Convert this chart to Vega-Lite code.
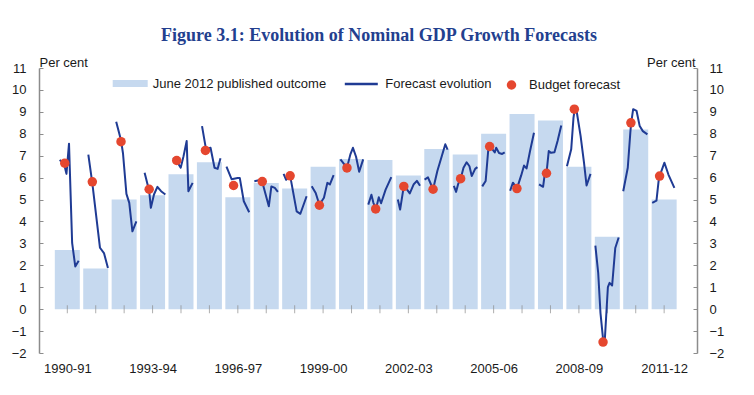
{
  "$schema": "https://vega.github.io/schema/vega-lite/v6.json",
  "width": 658,
  "height": 285,
  "autosize": {"type": "none"},
  "padding": {"left": 39, "top": 68, "right": 57, "bottom": 42},
  "background": "white",
  "title": {
    "text": "Figure 3.1: Evolution of Nominal GDP Growth Forecasts",
    "font": "Liberation Serif",
    "fontSize": 18,
    "fontWeight": "bold",
    "color": "#233f8f",
    "anchor": "middle",
    "frame": "group",
    "dx": 11,
    "offset": -3,
    "baseline": "alphabetic"
  },
  "config": {
    "view": {"stroke": null},
    "font": "Liberation Sans",
    "axisX": {
      "domain": false,
      "ticks": false,
      "grid": false,
      "labelFontSize": 13,
      "labelColor": "#1a1a1a",
      "labelPadding": 9,
      "title": null
    },
    "legend": {
      "orient": "none",
      "title": null,
      "padding": 0,
      "labelFontSize": 13,
      "labelColor": "#1a1a1a",
      "labelFont": "Liberation Sans",
      "labelLimit": 400
    }
  },
  "datasets": {
    "bars": [
      {"i": 0, "v": 2.7}, {"i": 1, "v": 1.85}, {"i": 2, "v": 5.0}, {"i": 3, "v": 5.2},
      {"i": 4, "v": 6.15}, {"i": 5, "v": 6.7}, {"i": 6, "v": 5.1}, {"i": 7, "v": 5.75},
      {"i": 8, "v": 5.5}, {"i": 9, "v": 6.5}, {"i": 10, "v": 6.85}, {"i": 11, "v": 6.8},
      {"i": 12, "v": 6.1}, {"i": 13, "v": 7.3}, {"i": 14, "v": 7.05}, {"i": 15, "v": 8.0},
      {"i": 16, "v": 8.9}, {"i": 17, "v": 8.6}, {"i": 18, "v": 6.5}, {"i": 19, "v": 3.3},
      {"i": 20, "v": 8.2}, {"i": 21, "v": 5.0}
    ],
    "lines": [
      {"yr": 0, "t": -0.27, "v": 6.8}, {"yr": 0, "t": -0.12, "v": 6.65}, {"yr": 0, "t": -0.03, "v": 6.17}, {"yr": 0, "t": 0.06, "v": 7.55}, {"yr": 0, "t": 0.17, "v": 3.02}, {"yr": 0, "t": 0.28, "v": 1.95}, {"yr": 0, "t": 0.40, "v": 2.21},
      {"yr": 1, "t": 0.74, "v": 7.05}, {"yr": 1, "t": 0.88, "v": 5.75}, {"yr": 1, "t": 1.15, "v": 2.8}, {"yr": 1, "t": 1.29, "v": 2.56}, {"yr": 1, "t": 1.43, "v": 1.88},
      {"yr": 2, "t": 1.72, "v": 8.55}, {"yr": 2, "t": 1.89, "v": 7.7}, {"yr": 2, "t": 1.96, "v": 7.1}, {"yr": 2, "t": 2.08, "v": 5.26}, {"yr": 2, "t": 2.18, "v": 4.85}, {"yr": 2, "t": 2.29, "v": 3.55}, {"yr": 2, "t": 2.43, "v": 4.0},
      {"yr": 3, "t": 2.72, "v": 6.22}, {"yr": 3, "t": 2.88, "v": 5.4}, {"yr": 3, "t": 2.94, "v": 4.62}, {"yr": 3, "t": 3.05, "v": 5.23}, {"yr": 3, "t": 3.17, "v": 5.58}, {"yr": 3, "t": 3.30, "v": 5.38}, {"yr": 3, "t": 3.45, "v": 5.23},
      {"yr": 4, "t": 3.72, "v": 6.9}, {"yr": 4, "t": 3.85, "v": 6.75}, {"yr": 4, "t": 3.99, "v": 6.45}, {"yr": 4, "t": 4.09, "v": 6.98}, {"yr": 4, "t": 4.20, "v": 7.67}, {"yr": 4, "t": 4.26, "v": 5.38}, {"yr": 4, "t": 4.41, "v": 5.76},
      {"yr": 5, "t": 4.74, "v": 8.35}, {"yr": 5, "t": 4.88, "v": 7.3}, {"yr": 5, "t": 5.04, "v": 7.36}, {"yr": 5, "t": 5.18, "v": 6.45}, {"yr": 5, "t": 5.29, "v": 6.4}, {"yr": 5, "t": 5.39, "v": 6.88},
      {"yr": 6, "t": 5.60, "v": 6.5}, {"yr": 6, "t": 5.78, "v": 5.93}, {"yr": 6, "t": 5.99, "v": 5.98}, {"yr": 6, "t": 6.07, "v": 5.98}, {"yr": 6, "t": 6.21, "v": 4.92}, {"yr": 6, "t": 6.40, "v": 4.42},
      {"yr": 7, "t": 6.58, "v": 5.83}, {"yr": 7, "t": 6.74, "v": 5.88}, {"yr": 7, "t": 6.86, "v": 5.8}, {"yr": 7, "t": 7.09, "v": 4.69}, {"yr": 7, "t": 7.18, "v": 5.6}, {"yr": 7, "t": 7.30, "v": 5.53}, {"yr": 7, "t": 7.41, "v": 5.35},
      {"yr": 8, "t": 7.61, "v": 6.17}, {"yr": 8, "t": 7.70, "v": 5.9}, {"yr": 8, "t": 7.84, "v": 6.09}, {"yr": 8, "t": 8.07, "v": 4.46}, {"yr": 8, "t": 8.20, "v": 4.35}, {"yr": 8, "t": 8.42, "v": 5.15},
      {"yr": 9, "t": 8.60, "v": 5.61}, {"yr": 9, "t": 8.74, "v": 5.3}, {"yr": 9, "t": 8.87, "v": 4.76}, {"yr": 9, "t": 9.03, "v": 5.08}, {"yr": 9, "t": 9.15, "v": 5.76}, {"yr": 9, "t": 9.24, "v": 5.69}, {"yr": 9, "t": 9.37, "v": 6.11},
      {"yr": 10, "t": 9.61, "v": 6.83}, {"yr": 10, "t": 9.72, "v": 6.65}, {"yr": 10, "t": 9.84, "v": 6.45}, {"yr": 10, "t": 9.96, "v": 7.06}, {"yr": 10, "t": 10.05, "v": 7.36}, {"yr": 10, "t": 10.16, "v": 6.95}, {"yr": 10, "t": 10.27, "v": 6.27}, {"yr": 10, "t": 10.41, "v": 6.83},
      {"yr": 11, "t": 10.59, "v": 4.77}, {"yr": 11, "t": 10.70, "v": 5.22}, {"yr": 11, "t": 10.77, "v": 4.85}, {"yr": 11, "t": 10.86, "v": 4.57}, {"yr": 11, "t": 10.96, "v": 5.1}, {"yr": 11, "t": 11.04, "v": 4.83}, {"yr": 11, "t": 11.20, "v": 5.45}, {"yr": 11, "t": 11.40, "v": 6.02},
      {"yr": 12, "t": 11.63, "v": 5.0}, {"yr": 12, "t": 11.71, "v": 4.54}, {"yr": 12, "t": 11.84, "v": 5.61}, {"yr": 12, "t": 11.93, "v": 5.5}, {"yr": 12, "t": 12.05, "v": 5.28}, {"yr": 12, "t": 12.19, "v": 5.7}, {"yr": 12, "t": 12.30, "v": 5.85}, {"yr": 12, "t": 12.41, "v": 5.63},
      {"yr": 13, "t": 12.57, "v": 5.91}, {"yr": 13, "t": 12.69, "v": 6.01}, {"yr": 13, "t": 12.76, "v": 5.8}, {"yr": 13, "t": 12.87, "v": 5.47}, {"yr": 13, "t": 13.02, "v": 6.3}, {"yr": 13, "t": 13.18, "v": 7.0}, {"yr": 13, "t": 13.30, "v": 7.52}, {"yr": 13, "t": 13.38, "v": 7.28},
      {"yr": 14, "t": 13.60, "v": 5.62}, {"yr": 14, "t": 13.68, "v": 5.35}, {"yr": 14, "t": 13.75, "v": 5.7}, {"yr": 14, "t": 13.84, "v": 5.95}, {"yr": 14, "t": 13.94, "v": 6.45}, {"yr": 14, "t": 14.05, "v": 6.7}, {"yr": 14, "t": 14.15, "v": 6.52}, {"yr": 14, "t": 14.23, "v": 6.07}, {"yr": 14, "t": 14.35, "v": 6.4}, {"yr": 14, "t": 14.43, "v": 6.48},
      {"yr": 15, "t": 14.60, "v": 5.6}, {"yr": 15, "t": 14.72, "v": 5.85}, {"yr": 15, "t": 14.81, "v": 7.25}, {"yr": 15, "t": 14.88, "v": 7.42}, {"yr": 15, "t": 15.04, "v": 7.15}, {"yr": 15, "t": 15.09, "v": 7.36}, {"yr": 15, "t": 15.19, "v": 7.12}, {"yr": 15, "t": 15.30, "v": 7.08}, {"yr": 15, "t": 15.39, "v": 7.15},
      {"yr": 16, "t": 15.58, "v": 5.4}, {"yr": 16, "t": 15.68, "v": 5.77}, {"yr": 16, "t": 15.82, "v": 5.5}, {"yr": 16, "t": 15.97, "v": 6.1}, {"yr": 16, "t": 16.07, "v": 6.55}, {"yr": 16, "t": 16.16, "v": 6.42}, {"yr": 16, "t": 16.28, "v": 7.2}, {"yr": 16, "t": 16.42, "v": 8.05},
      {"yr": 17, "t": 16.60, "v": 5.69}, {"yr": 17, "t": 16.74, "v": 5.58}, {"yr": 17, "t": 16.79, "v": 6.07}, {"yr": 17, "t": 16.86, "v": 6.2}, {"yr": 17, "t": 16.94, "v": 7.21}, {"yr": 17, "t": 17.02, "v": 7.13}, {"yr": 17, "t": 17.14, "v": 7.16}, {"yr": 17, "t": 17.25, "v": 7.67}, {"yr": 17, "t": 17.38, "v": 8.38},
      {"yr": 18, "t": 17.58, "v": 6.52}, {"yr": 18, "t": 17.73, "v": 7.29}, {"yr": 18, "t": 17.81, "v": 8.73}, {"yr": 18, "t": 17.85, "v": 9.1}, {"yr": 18, "t": 17.92, "v": 9.04}, {"yr": 18, "t": 18.06, "v": 7.9}, {"yr": 18, "t": 18.18, "v": 6.68}, {"yr": 18, "t": 18.27, "v": 5.64}, {"yr": 18, "t": 18.41, "v": 6.17},
      {"yr": 19, "t": 18.58, "v": 2.9}, {"yr": 19, "t": 18.68, "v": 1.65}, {"yr": 19, "t": 18.76, "v": -0.18}, {"yr": 19, "t": 18.86, "v": -1.48}, {"yr": 19, "t": 18.91, "v": -1.45}, {"yr": 19, "t": 19.02, "v": 1.0}, {"yr": 19, "t": 19.08, "v": 1.2}, {"yr": 19, "t": 19.17, "v": 1.08}, {"yr": 19, "t": 19.28, "v": 2.79}, {"yr": 19, "t": 19.40, "v": 3.27},
      {"yr": 20, "t": 19.56, "v": 5.38}, {"yr": 20, "t": 19.72, "v": 6.45}, {"yr": 20, "t": 19.81, "v": 8.05}, {"yr": 20, "t": 19.84, "v": 8.5}, {"yr": 20, "t": 19.91, "v": 9.12}, {"yr": 20, "t": 20.03, "v": 9.04}, {"yr": 20, "t": 20.14, "v": 8.35}, {"yr": 20, "t": 20.25, "v": 8.12}, {"yr": 20, "t": 20.41, "v": 7.97},
      {"yr": 21, "t": 20.58, "v": 4.85}, {"yr": 21, "t": 20.73, "v": 4.95}, {"yr": 21, "t": 20.81, "v": 5.91}, {"yr": 21, "t": 20.84, "v": 6.07}, {"yr": 21, "t": 21.01, "v": 6.68}, {"yr": 21, "t": 21.15, "v": 6.14}, {"yr": 21, "t": 21.36, "v": 5.53}
    ],
    "dots": [
      {"t": -0.09, "v": 6.66}, {"t": 0.88, "v": 5.81}, {"t": 1.89, "v": 7.64}, {"t": 2.88, "v": 5.47},
      {"t": 3.85, "v": 6.78}, {"t": 4.86, "v": 7.24}, {"t": 5.85, "v": 5.64}, {"t": 6.86, "v": 5.82},
      {"t": 7.84, "v": 6.08}, {"t": 8.87, "v": 4.74}, {"t": 9.84, "v": 6.44}, {"t": 10.85, "v": 4.57},
      {"t": 11.84, "v": 5.6}, {"t": 12.87, "v": 5.47}, {"t": 13.84, "v": 5.95}, {"t": 14.86, "v": 7.42},
      {"t": 15.82, "v": 5.5}, {"t": 16.86, "v": 6.2}, {"t": 17.84, "v": 9.12}, {"t": 18.85, "v": -1.5},
      {"t": 19.83, "v": 8.5}, {"t": 20.84, "v": 6.07}
    ]
  },
  "resolve": {
    "axis": {"y": "independent"},
    "scale": {"color": "independent"},
    "legend": {"color": "independent"}
  },
  "layer": [
    {
      "data": {"name": "bars"},
      "mark": {"type": "bar", "width": 25},
      "encoding": {
        "x": {
          "field": "i", "type": "quantitative",
          "scale": {"domain": [-0.82, 21.98], "nice": false, "zero": false},
          "axis": {"values": [0, 3, 6, 9, 12, 15, 18, 21], "labelExpr": "['1990-91','1993-94','1996-97','1999-00','2002-03','2005-06','2008-09','2011-12'][datum.value/3]"}
        },
        "y": {
          "field": "v", "type": "quantitative",
          "scale": {"domain": [-2, 11], "nice": false, "zero": false},
          "axis": {
            "orient": "left",
            "values": [-2, -1, 0, 1, 2, 3, 4, 5, 6, 7, 8, 9, 10, 11],
            "grid": false,
            "domainColor": "#8c8c8c", "domainWidth": 1.5,
            "tickColor": "#8c8c8c", "tickSize": -4, "tickWidth": 1,
            "labelPadding": 17, "labelFontSize": 13, "labelColor": "#1a1a1a",
            "title": "Per cent", "titleAngle": 0, "titleAlign": "left", "titleBaseline": "alphabetic",
            "titleX": 0, "titleY": -2, "titleFontSize": 13, "titleFontWeight": "normal", "titleColor": "#1a1a1a"
          }
        },
        "color": {
          "datum": "June 2012 published outcome",
          "scale": {"range": ["#c6d9ef"]},
          "legend": {"legendX": 73.7, "legendY": -2, "symbolType": "M-1,-0.2H1V0.2H-1Z", "symbolSize": 1225, "symbolStrokeWidth": 0, "labelOffset": 5}
        }
      }
    },
    {
      "mark": {"type": "rule", "color": "#8c8c8c", "strokeWidth": 1.5},
      "encoding": {"y": {"datum": 0, "type": "quantitative", "axis": null}}
    },
    {
      "data": {"name": "bars"},
      "mark": {"type": "tick", "orient": "vertical", "size": 8, "thickness": 1, "color": "#8c8c8c"},
      "encoding": {
        "x": {"field": "i", "type": "quantitative"},
        "y": {"datum": 0, "type": "quantitative", "axis": null}
      }
    },
    {
      "data": {"name": "lines"},
      "mark": {"type": "line", "strokeWidth": 2, "strokeJoin": "round"},
      "encoding": {
        "x": {"field": "t", "type": "quantitative"},
        "y": {
          "field": "v", "type": "quantitative",
          "axis": {
            "orient": "right",
            "values": [-2, -1, 0, 1, 2, 3, 4, 5, 6, 7, 8, 9, 10, 11],
            "grid": false,
            "domainColor": "#8c8c8c", "domainWidth": 1.5,
            "tickColor": "#8c8c8c", "tickSize": -4, "tickWidth": 1,
            "labelPadding": 16, "labelFontSize": 13, "labelColor": "#1a1a1a",
            "title": "Per cent", "titleAngle": 0, "titleAlign": "right", "titleBaseline": "alphabetic",
            "titleX": -2, "titleY": -2, "titleFontSize": 13, "titleFontWeight": "normal", "titleColor": "#1a1a1a"
          }
        },
        "detail": {"field": "yr"},
        "color": {
          "datum": "Forecast evolution",
          "scale": {"range": ["#1f3b94"]},
          "legend": {"legendX": 304.3, "legendY": -2, "symbolType": "stroke", "symbolSize": 1089, "symbolStrokeWidth": 2.5, "labelOffset": 6}
        }
      }
    },
    {
      "data": {"name": "dots"},
      "mark": {"type": "circle", "size": 90, "opacity": 1},
      "encoding": {
        "x": {"field": "t", "type": "quantitative"},
        "y": {"field": "v", "type": "quantitative", "axis": null},
        "color": {
          "datum": "Budget forecast",
          "scale": {"range": ["#e5472f"]},
          "legend": {"legendX": 466, "legendY": 10.5, "symbolType": "circle", "symbolSize": 90, "symbolOpacity": 1, "labelOffset": 11}
        }
      }
    }
  ]
}
